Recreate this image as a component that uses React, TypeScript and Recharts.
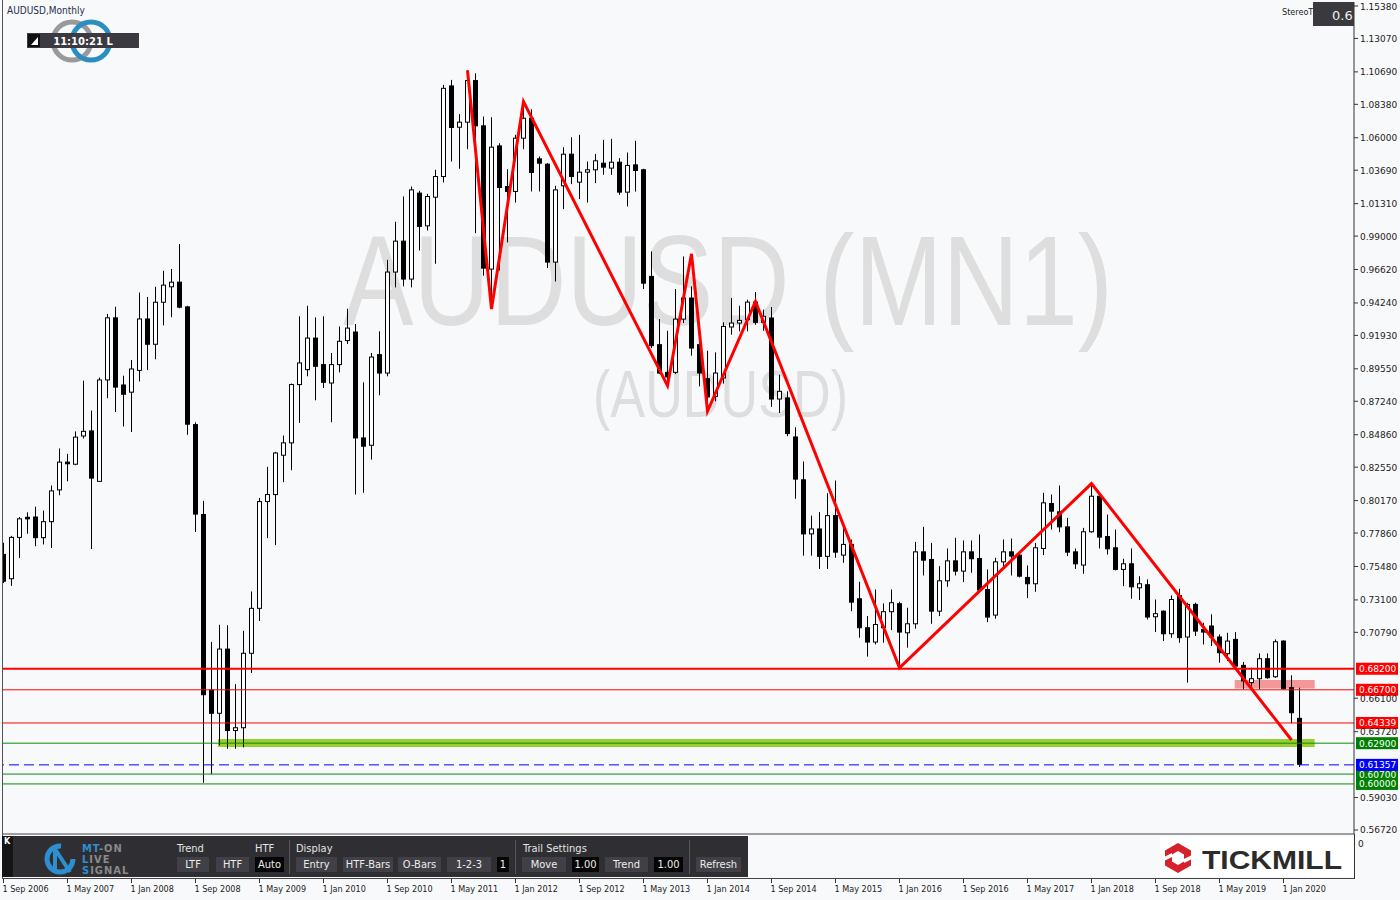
import React from 'react';
import {
  Bar,
  ComposedChart,
  Line,
  ReferenceArea,
  ReferenceLine,
  XAxis,
  YAxis
} from 'recharts';

// monthly candles, Sep 2006 .. Mar 2020
const opens = [
  0.7634, 0.7461, 0.7755, 0.7898, 0.79, 0.7753, 0.7867, 0.8093, 0.8291, 0.8276, 0.8477, 0.8513,
  0.8154, 0.8876, 0.9318, 0.884, 0.8789, 0.8944, 0.931, 0.913, 0.9429, 0.9539, 0.9572, 0.9396,
  0.8558, 0.7918, 0.6668, 0.6503, 0.696, 0.638, 0.64, 0.693, 0.725, 0.801, 0.806, 0.834,
  0.8428, 0.8843, 0.8949, 0.9174, 0.8985, 0.8854, 0.8985, 0.9156, 0.9217, 0.8463, 0.8411, 0.9056,
  0.8925, 0.9644, 0.9864, 0.9594, 1.0206, 0.9973, 1.0177, 1.0324, 1.0969, 1.0675, 1.0711, 1.1007,
  1.0685, 0.9665, 1.0542, 1.0253, 1.0218, 1.0597, 1.0739, 1.045, 1.0412, 0.9715, 1.0258, 1.0483,
  1.0284, 1.0355, 1.0372, 1.0419, 1.0384, 1.0426, 1.0213, 1.0407, 1.0372, 0.9613, 0.9127, 0.893,
  0.893, 0.9309, 0.9459, 0.9127, 0.8885, 0.8759, 0.889, 0.9253, 0.9281, 0.9305, 0.943, 0.9286,
  0.9317, 0.874, 0.8748, 0.847, 0.8165, 0.778, 0.7815, 0.762, 0.791, 0.7629, 0.7705, 0.7318,
  0.7112, 0.701, 0.7112, 0.7226, 0.7283, 0.7076, 0.714, 0.7652, 0.7598, 0.723, 0.7446, 0.7588,
  0.7515, 0.7652, 0.7605, 0.7384, 0.7202, 0.7581, 0.7652, 0.7629, 0.747, 0.7425, 0.7676, 0.7996,
  0.7937, 0.783, 0.7652, 0.7558, 0.7795, 0.8048, 0.7761, 0.7681, 0.7527, 0.7567, 0.7396, 0.7418,
  0.719, 0.723, 0.7069, 0.734, 0.7046, 0.7278, 0.71, 0.7124, 0.7046, 0.6927, 0.7029, 0.6844,
  0.6721, 0.6749, 0.6891, 0.6763, 0.7017, 0.6685, 0.6467
];
const highs = [
  0.7717, 0.7766, 0.79, 0.7933, 0.7974, 0.7946, 0.8124, 0.8388, 0.835, 0.851, 0.8871, 0.8658,
  0.8893, 0.9346, 0.9397, 0.8906, 0.9018, 0.9498, 0.9467, 0.9539, 0.9653, 0.9666, 0.9843, 0.9404,
  0.8574, 0.8015, 0.7011, 0.7133, 0.713, 0.671, 0.709, 0.737, 0.8036, 0.8257, 0.8364, 0.848,
  0.885, 0.9329, 0.9404, 0.9321, 0.9329, 0.9068, 0.9257, 0.9383, 0.9274, 0.8859, 0.9068, 0.9222,
  0.9731, 1.0002, 1.0182, 1.0253, 1.0222, 1.0201, 1.0372, 1.0976, 1.1012, 1.0768, 1.108, 1.1059,
  1.0751, 1.0746, 1.0561, 1.0376, 1.0621, 1.0858, 1.0803, 1.0467, 1.0419, 1.0258, 1.0533, 1.0604,
  1.0621, 1.0431, 1.0485, 1.0585, 1.0592, 1.0455, 1.0495, 1.0578, 1.0379, 0.9791, 0.9309, 0.9226,
  0.9523, 0.9755, 0.9542, 0.9174, 0.9084, 0.9072, 0.9286, 0.9459, 0.9404, 0.9447, 0.9501, 0.9376,
  0.9395, 0.8913, 0.8795, 0.854, 0.8295, 0.791, 0.7935, 0.807, 0.816, 0.7835, 0.774, 0.7439,
  0.7195, 0.7384, 0.7285, 0.7384, 0.7297, 0.7254, 0.7723, 0.783, 0.7716, 0.755, 0.7676, 0.7752,
  0.7733, 0.7733, 0.7776, 0.7527, 0.761, 0.774, 0.7747, 0.7645, 0.7555, 0.7716, 0.8072, 0.806,
  0.8124, 0.7894, 0.7676, 0.7823, 0.8138, 0.8072, 0.7918, 0.7811, 0.7603, 0.7676, 0.7479, 0.7456,
  0.7313, 0.7235, 0.7342, 0.7389, 0.729, 0.729, 0.7147, 0.7207, 0.7064, 0.7076, 0.7081, 0.6868,
  0.6827, 0.6929, 0.6929, 0.7029, 0.7022, 0.6773, 0.6685
];
const lows = [
  0.743, 0.741, 0.7608, 0.7781, 0.7692, 0.7705, 0.7679, 0.8055, 0.8154, 0.8269, 0.8459, 0.7672,
  0.8154, 0.8746, 0.8647, 0.8545, 0.8505, 0.8865, 0.8947, 0.9023, 0.9264, 0.9323, 0.9386, 0.8485,
  0.7794, 0.6008, 0.607, 0.6275, 0.625, 0.625, 0.626, 0.679, 0.716, 0.775, 0.77, 0.8148,
  0.8233, 0.857, 0.8902, 0.8731, 0.8819, 0.8575, 0.893, 0.9132, 0.806, 0.8072, 0.8309, 0.8767,
  0.8902, 0.9535, 0.9542, 0.9535, 0.9798, 0.994, 0.9703, 1.0282, 1.0431, 1.0379, 1.0519, 0.9921,
  0.9618, 0.9381, 0.9656, 0.9855, 1.0139, 1.0519, 1.0218, 1.0218, 0.9672, 0.9577, 1.0092, 1.027,
  1.0163, 1.0139, 1.0277, 1.0336, 1.0336, 1.0194, 1.0111, 1.0217, 0.9523, 0.9103, 0.8918, 0.8842,
  0.8918, 0.9281, 0.9049, 0.883, 0.8653, 0.8724, 0.885, 0.9198, 0.9222, 0.9222, 0.9269, 0.9226,
  0.8684, 0.8641, 0.8475, 0.803, 0.7625, 0.7625, 0.753, 0.753, 0.761, 0.7574, 0.723, 0.7041,
  0.6906, 0.6993, 0.7005, 0.7095, 0.6827, 0.697, 0.7105, 0.7484, 0.714, 0.7195, 0.7403, 0.7484,
  0.7437, 0.7503, 0.7361, 0.7152, 0.7176, 0.7546, 0.7484, 0.747, 0.7323, 0.7368, 0.7629, 0.7811,
  0.7792, 0.7622, 0.7531, 0.7496, 0.7788, 0.7676, 0.7633, 0.752, 0.7408, 0.7318, 0.7309, 0.7171,
  0.7081, 0.7017, 0.7041, 0.7005, 0.6721, 0.7053, 0.6993, 0.6982, 0.6863, 0.6875, 0.6827, 0.6673,
  0.6685, 0.6673, 0.6749, 0.6756, 0.6673, 0.6432, 0.612
];
const closes = [
  0.7443, 0.7755, 0.7887, 0.7887, 0.7753, 0.7867, 0.8086, 0.8291, 0.8279, 0.8469, 0.851, 0.8177,
  0.8876, 0.9318, 0.8825, 0.8774, 0.8954, 0.931, 0.913, 0.9429, 0.9551, 0.9572, 0.9394, 0.8561,
  0.7921, 0.6635, 0.6503, 0.696, 0.638, 0.64, 0.693, 0.725, 0.801, 0.806, 0.8356, 0.8428,
  0.8843, 0.8997, 0.9174, 0.8973, 0.8859, 0.8985, 0.9151, 0.9245, 0.8463, 0.8404, 0.9039, 0.8925,
  0.9644, 0.9864, 0.9594, 1.0229, 0.9969, 1.0182, 1.0324, 1.0952, 1.0673, 1.0711, 1.1007, 1.0685,
  0.9672, 1.0533, 1.0246, 1.0218, 1.0597, 1.0739, 1.0353, 1.0419, 0.9715, 1.0229, 1.0483, 1.0324,
  1.0355, 1.0372, 1.0436, 1.0391, 1.0426, 1.0213, 1.0403, 1.0367, 0.9565, 0.912, 0.8925, 0.8897,
  0.9309, 0.9459, 0.9103, 0.8925, 0.8755, 0.8925, 0.9257, 0.9281, 0.93, 0.943, 0.9286, 0.9329,
  0.874, 0.8795, 0.8494, 0.817, 0.778, 0.7815, 0.762, 0.791, 0.765, 0.7705, 0.7294, 0.7112,
  0.701, 0.7135, 0.7226, 0.729, 0.7081, 0.714, 0.7652, 0.7593, 0.723, 0.7446, 0.7588, 0.7515,
  0.7652, 0.7603, 0.738, 0.7188, 0.7581, 0.7652, 0.7622, 0.7479, 0.7425, 0.7681, 0.8001, 0.7942,
  0.783, 0.765, 0.7567, 0.7795, 0.8048, 0.7757, 0.7674, 0.7527, 0.7567, 0.7403, 0.7425, 0.7188,
  0.7212, 0.7069, 0.7313, 0.7041, 0.7278, 0.7088, 0.7081, 0.7046, 0.6934, 0.7017, 0.6839, 0.6733,
  0.6749, 0.6891, 0.6756, 0.7012, 0.6678, 0.6507, 0.614
];

const dateLabels = [
  '1 Sep 2006', '1 May 2007', '1 Jan 2008', '1 Sep 2008', '1 May 2009', '1 Jan 2010', '1 Sep 2010',
  '1 May 2011', '1 Jan 2012', '1 Sep 2012', '1 May 2013', '1 Jan 2014', '1 Sep 2014', '1 May 2015',
  '1 Jan 2016', '1 Sep 2016', '1 May 2017', '1 Jan 2018', '1 Sep 2018', '1 May 2019', '1 Jan 2020'
];
const priceTicks = [
  1.1538, 1.1307, 1.1069, 1.0838, 1.06, 1.0369, 1.0131, 0.99, 0.9662, 0.9424, 0.9193, 0.8955,
  0.8724, 0.8486, 0.8255, 0.8017, 0.7786, 0.7548, 0.731, 0.7079, 0.661, 0.6372, 0.5903, 0.5672
];

const redLevels = [0.682, 0.667, 0.64339];
const greenLevels = [0.629, 0.607, 0.6];
const bidPrice = 0.61357;

// zigzag vertices: bar index + price
const zigzagBars = [58, 61, 65, 83, 86, 88, 94, 112, 136, 161];
const zigzagPrices = [1.108, 0.9381, 1.0858, 0.8835, 0.9774, 0.8653, 0.9435, 0.6827, 0.8138, 0.6313];

const supportZone = [0.6262, 0.632];
const supportBars = [26.8, 163.9];
const resistZone = [0.668, 0.6739];
const resistBars = [153.9, 163.9];

const candles = opens.map((o, i) => {
  const z = zigzagBars.indexOf(i);
  return { i, o, h: highs[i], l: lows[i], c: closes[i], zz: z >= 0 ? zigzagPrices[z] : null };
});

const BG = '#f8f9fb';
const PLOT_BOTTOM = 834;
const AXIS_X = 1354;
const UI_FONT = "'DejaVu Sans Condensed', 'DejaVu Sans', sans-serif";

const Candle = (props: any) => {
  const { x, y, width, height, payload } = props;
  if (x == null || !payload) return null;
  const { o, h, l, c } = payload;
  const cx = Math.floor(x + width / 2) + 0.5;
  const k = h === l ? 0 : height / (h - l);
  const py = (p: number) => y + (h - p) * k;
  const top = py(Math.max(o, c));
  const bot = py(Math.min(o, c));
  return (
    <g>
      <line x1={cx} x2={cx} y1={y} y2={y + height} stroke='#000' strokeWidth={1} />
      {bot - top < 1.5 ? (
        <line x1={cx - 2.5} x2={cx + 2.5} y1={top} y2={top} stroke='#000' strokeWidth={1.5} />
      ) : (
        <rect
          x={cx - 2}
          y={top}
          width={4}
          height={bot - top}
          fill={c >= o ? '#fff' : '#000'}
          stroke='#000'
          strokeWidth={1}
        />
      )}
    </g>
  );
};

const DateTick = (props: any) => {
  const { x, payload } = props;
  const label = dateLabels[Math.round(payload.value / 8)];
  return (
    <g>
      <line x1={x} x2={x} y1={PLOT_BOTTOM + 45} y2={PLOT_BOTTOM + 49} stroke='#333' />
      <text x={x - 1} y={PLOT_BOTTOM + 58} fontSize={9} fontFamily={UI_FONT} fill='#222'>
        {label}
      </text>
    </g>
  );
};

const PriceTick = (props: any) => {
  const { y, payload } = props;
  return (
    <text x={AXIS_X + 6} y={y + 3.5} fontSize={9} fontFamily="'DejaVu Sans', sans-serif" fill='#222'>
      {payload.value.toFixed(5)}
    </text>
  );
};

const priceTag = (color: string, text: string) => (props: any) => {
  const vb = props.viewBox;
  if (!vb) return null;
  const x = vb.x + vb.width + 2;
  return (
    <g>
      <rect x={x} y={vb.y - 6} width={42} height={12} fill={color} />
      <text x={x + 3} y={vb.y + 3.5} fontSize={9} fontFamily="'DejaVu Sans', sans-serif" fill='#fff'>
        {text}
      </text>
    </g>
  );
};

function Btn({ x, w, label, dark }: { x: number; w: number; label: string; dark?: boolean }) {
  return (
    <div
      style={{
        position: 'absolute',
        left: x,
        top: 857,
        width: w,
        height: 15,
        background: dark ? '#050505' : '#404046',
        color: '#ececec',
        font: `11px ${UI_FONT}`,
        lineHeight: '15px',
        textAlign: 'center'
      }}
    >
      {label}
    </div>
  );
}

function Title({ x, text }: { x: number; text: string }) {
  return (
    <div style={{ position: 'absolute', left: x, top: 842, color: '#e4e4e4', font: `11px ${UI_FONT}` }}>
      {text}
    </div>
  );
}

function Panel() {
  return (
    <>
      <div style={{ position: 'absolute', left: 2, top: 836, width: 746, height: 41, background: '#2f2f33' }} />
      <div style={{ position: 'absolute', left: 2, top: 836, width: 11, height: 41, background: '#151515' }} />
      <div style={{ position: 'absolute', left: 4, top: 836, color: '#fff', font: `bold 9px ${UI_FONT}` }}>K</div>
      <svg style={{ position: 'absolute', left: 0, top: 0 }} width={1400} height={900}>
        <circle cx={60} cy={859} r={13} fill='none' stroke='#2d8fcf' strokeWidth={5} strokeDasharray='62 20' />
        <line x1={55} y1={848} x2={55} y2={872} stroke='#2d8fcf' strokeWidth={4} />
        <line x1={55} y1={849} x2={70} y2={872} stroke='#2d8fcf' strokeWidth={4} />
        <text x={82} y={852} fontSize={11} fontWeight='bold' fontFamily={UI_FONT} letterSpacing={1}>
          <tspan fill='#2d8fcf'>MT</tspan>
          <tspan fill='#8a8a8a'>-ON</tspan>
        </text>
        <text x={82} y={863} fontSize={11} fontWeight='bold' fontFamily={UI_FONT} letterSpacing={1}>
          <tspan fill='#2d8fcf'>L</tspan>
          <tspan fill='#8a8a8a'>IVE</tspan>
        </text>
        <text x={82} y={874} fontSize={11} fontWeight='bold' fontFamily={UI_FONT} letterSpacing={1}>
          <tspan fill='#2d8fcf'>S</tspan>
          <tspan fill='#8a8a8a'>IGNAL</tspan>
        </text>
        <line x1={289.5} x2={289.5} y1={840} y2={874} stroke='#55555b' />
        <line x1={515.5} x2={515.5} y1={840} y2={874} stroke='#55555b' />
        <line x1={689.5} x2={689.5} y1={840} y2={874} stroke='#55555b' />
      </svg>
      <Title x={177} text='Trend' />
      <Title x={255} text='HTF' />
      <Title x={296} text='Display' />
      <Title x={523} text='Trail Settings' />
      <Btn x={177} w={32} label='LTF' />
      <Btn x={216} w={33} label='HTF' />
      <Btn x={255} w={29} label='Auto' dark />
      <Btn x={296} w={41} label='Entry' />
      <Btn x={343} w={50} label='HTF-Bars' />
      <Btn x={398} w={43} label='O-Bars' />
      <Btn x={447} w={44} label='1-2-3' />
      <Btn x={497} w={12} label='1' dark />
      <Btn x={522} w={44} label='Move' />
      <Btn x={572} w={27} label='1.00' dark />
      <Btn x={605} w={43} label='Trend' />
      <Btn x={654} w={29} label='1.00' dark />
      <Btn x={696} w={45} label='Refresh' />
    </>
  );
}

function Decor() {
  return (
    <svg style={{ position: 'absolute', left: 0, top: 0 }} width={1400} height={900}>
      {/* window frame */}
      <line x1={2.5} x2={2.5} y1={0} y2={879} stroke='#555' />
      <line x1={2} x2={AXIS_X} y1={878.5} y2={878.5} stroke='#444' />
      <line x1={AXIS_X + 0.5} x2={AXIS_X + 0.5} y1={PLOT_BOTTOM} y2={879} stroke='#333' />
      <text x={1358} y={847} fontSize={9} fontFamily="'DejaVu Sans', sans-serif" fill='#222'>0</text>
      {/* header */}
      <text x={7} y={14} fontSize={10} fontFamily={UI_FONT} fill='#1f2d4d'>AUDUSD,Monthly</text>
      <circle cx={72} cy={41} r={19} fill='none' stroke='#9a9a9a' strokeWidth={5} />
      <circle cx={91} cy={41} r={19} fill='none' stroke='#2a8fbf' strokeWidth={5} />
      <rect x={27} y={33} width={112} height={15} fill='#3a3a40' />
      <rect x={28} y={34} width={12} height={13} fill='#111' />
      <path d='M38 37 L38 45 L31 45 Z' fill='#fff' />
      <text x={83} y={44.5} fontSize={10} fontWeight='bold' fontFamily="'DejaVu Sans', sans-serif" fill='#fff' textAnchor='middle'>
        11:10:21 L
      </text>
      {/* top right */}
      <text x={1282} y={15} fontSize={9} fontFamily={UI_FONT} fill='#222'>StereoT</text>
      <rect x={1313} y={2} width={41} height={24} fill='#39393e' />
      <text x={1332} y={20} fontSize={13} fontFamily="'DejaVu Sans', sans-serif" fill='#eee'>0.6</text>
      {/* tickmill */}
      <rect x={1160} y={837} width={193} height={40} fill='#fff' />
      <polygon points='1178,843 1191,850.5 1191,865.5 1178,873 1165,865.5 1165,850.5' fill='#d5212b' />
      <polygon points='1178,851 1184,854.5 1184,861.5 1178,865 1172,861.5 1172,854.5' fill='#fff' />
      <polygon points='1164,857 1172,853 1172,857 1164,861' fill='#fff' />
      <polygon points='1192,859 1184,863 1184,859 1192,855' fill='#fff' />
      <text
        x={1202}
        y={869}
        fontSize={26}
        fontWeight='bold'
        fontFamily="'Liberation Sans', sans-serif"
        fill='#2b2b2b'
        textLength={140}
        lengthAdjust='spacingAndGlyphs'
      >
        TICKMILL
      </text>
    </svg>
  );
}

function Watermark() {
  return (
    <svg style={{ position: 'absolute', left: 0, top: 0 }} width={1400} height={900}>
      <text
        x={343}
        y={325}
        fontSize={128}
        fontFamily="'Liberation Sans Narrow', 'Liberation Sans', sans-serif"
        fill='#dedede'
        textLength={770}
        lengthAdjust='spacingAndGlyphs'
      >
        AUDUSD (MN1)
      </text>
      <text
        x={593}
        y={417}
        fontSize={66}
        fontFamily="'Liberation Sans Narrow', 'Liberation Sans', sans-serif"
        fill='#dedede'
        textLength={255}
        lengthAdjust='spacingAndGlyphs'
      >
        (AUDUSD)
      </text>
    </svg>
  );
}

function App() {
  return (
    <div style={{ position: 'absolute', left: 0, top: 0, width: 1400, height: 900, background: BG, overflow: 'hidden' }}>
      <Watermark />
      <ComposedChart
        width={1400}
        height={900}
        data={candles}
        margin={{ top: 2, right: 0, bottom: 0, left: 2 }}
      >
        <XAxis
          dataKey='i'
          type='number'
          domain={[-0.1875, 168.8125]}
          allowDataOverflow
          ticks={[0, 8, 16, 24, 32, 40, 48, 56, 64, 72, 80, 88, 96, 104, 112, 120, 128, 136, 144, 152, 160]}
          interval={0}
          height={66}
          tickLine={false}
          tickSize={0}
          axisLine={{ stroke: '#444' }}
          tick={<DateTick />}
        />
        <YAxis
          orientation='right'
          type='number'
          domain={[0.56435, 1.15665]}
          allowDataOverflow
          ticks={priceTicks}
          interval={0}
          width={46}
          tickSize={4}
          tickLine={{ stroke: '#333' }}
          axisLine={{ stroke: '#333' }}
          tick={<PriceTick />}
        />
        <ReferenceArea
          x1={supportBars[0]}
          x2={supportBars[1]}
          y1={supportZone[0]}
          y2={supportZone[1]}
          fill='#9acd32'
          fillOpacity={1}
          stroke='none'
        />
        <ReferenceArea
          x1={resistBars[0]}
          x2={resistBars[1]}
          y1={resistZone[0]}
          y2={resistZone[1]}
          fill='#f08080'
          fillOpacity={0.8}
          stroke='none'
        />
        <Bar
          dataKey={(d: any) => [d.l, d.h]}
          barSize={7}
          shape={<Candle />}
          isAnimationActive={false}
        />
        {redLevels.map((v, n) => (
          <ReferenceLine
            key={'r' + v}
            y={v}
            stroke='#ff0000'
            strokeWidth={n === 0 ? 2 : 1}
            label={{ content: priceTag('#ff0000', v.toFixed(5)) } as any}
          />
        ))}
        {greenLevels.map((v) => (
          <ReferenceLine
            key={'g' + v}
            y={v}
            stroke='#0c8a0c'
            strokeWidth={1}
            label={{ content: priceTag('#007f00', v.toFixed(5)) } as any}
          />
        ))}
        <ReferenceLine
          y={bidPrice}
          stroke='#0000ff'
          strokeDasharray='10 5'
          label={{ content: priceTag('#0000ff', bidPrice.toFixed(5)) } as any}
        />
        <Line
          dataKey='zz'
          connectNulls
          stroke='#ff0000'
          strokeWidth={3}
          dot={false}
          activeDot={false}
          isAnimationActive={false}
        />
      </ComposedChart>
      <Decor />
      <Panel />
    </div>
  );
}

export default App;
